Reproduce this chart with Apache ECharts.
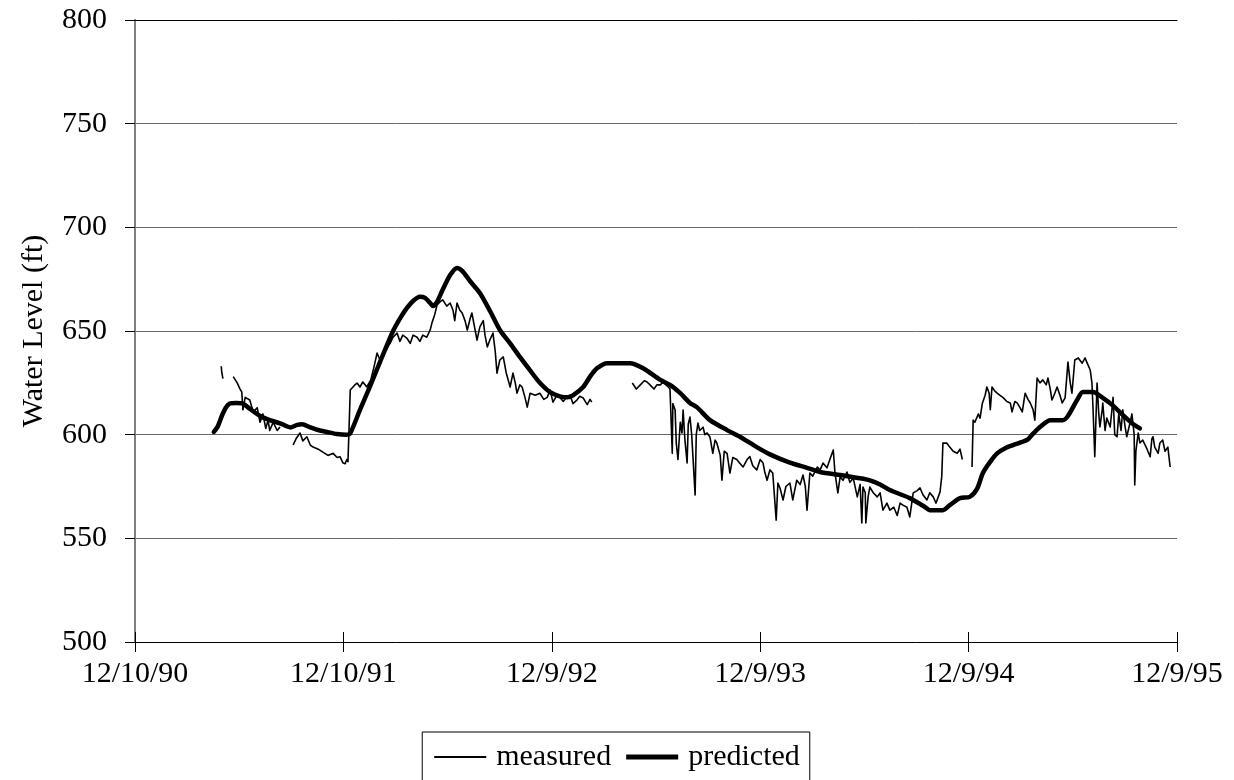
<!DOCTYPE html>
<html>
<head>
<meta charset="utf-8">
<title>Water Level</title>
<script src="https://cdn.jsdelivr.net/npm/echarts@6/dist/echarts.min.js"></script>
<style>
  html, body { margin: 0; padding: 0; background: #fff; }
  #chart { width: 1234px; height: 780px; }
</style>
</head>
<body>
<div id="chart"></div>
<script>
// Days are counted from 12/10/90; one axis step is 365 days.
const tickLabels = ['12/10/90', '12/10/91', '12/9/92', '12/9/93', '12/9/94', '12/9/95'];
const yTicks = [500, 550, 600, 650, 700, 750, 800];

// Measured water level (ft); null marks a gap in the record.
const measuredDays = [
  151, 152, 154, null,
  172, 179, 184, 187, 189, 193, 201, 207, 214, 219, 224, 229, 233, 236, 242, 249, 254, null,
  277, 282, 289, 294, 301, 307, 312, 321, 329, 338, 347, 354, 359, 364, 368, 371, 373, 375, 377, 380,
  385, 389, 394, 399, 406, 413, 418, 424, 429, 434, 440, 447, 452, 459, 464, 469, 476, 482, 487, 494,
  499, 504, 511, 517, 520, 525, 529, 534, 539, 546, 552, 557, 560, 564, 569, 573, 578, 582, 587, 590,
  596, 599, 604, 610, 613, 617, 622, 627, 631, 634, 639, 645, 650, 657, 662, 666, 669, 674, 678, 683,
  687, 692, 701, 709, 716, 722, 727, 732, 739, 744, 750, 757, 762, 767, 774, 779, 785, 792, 797, 800, null,
  871, 878, 885, 892, 897, 902, 909, 914, 920, 925, 930, 934, 937, 941, 942, 946, 948, 951, 955, 958,
  960, 963, 967, 969, 972, 975, 981, 983, 986, 989, 995, 998, 1002, 1007, 1012, 1016, 1019, 1025, 1028, 1032,
  1037, 1042, 1047, 1054, 1060, 1065, 1072, 1077, 1082, 1089, 1095, 1100, 1103, 1107, 1112, 1117, 1123, 1126, 1130, 1135,
  1140, 1147, 1152, 1156, 1159, 1165, 1170, 1174, 1177, 1182, 1187, 1195, 1200, 1205, 1212, 1217, 1223, 1226, 1231, 1235,
  1240, 1247, 1252, 1258, 1265, 1270, 1273, 1275, 1279, 1280, 1284, 1287, 1293, 1300, 1305, 1310, 1317, 1322, 1329, 1335,
  1340, 1345, 1352, 1357, 1363, 1370, 1375, 1380, 1387, 1392, 1398, 1403, 1410, 1413, 1415, 1422, 1427, 1433, 1440, 1445, 1449, null,
  1466, 1468, 1471, 1477, 1480, 1484, 1489, 1492, 1496, 1498, 1501, 1506, 1510, 1515, 1520, 1527, 1533, 1536, 1541, 1545,
  1550, 1554, 1559, 1564, 1568, 1573, 1576, 1580, 1585, 1590, 1596, 1599, 1603, 1606, 1611, 1615, 1620, 1624, 1629, 1634,
  1638, 1641, 1646, 1652, 1659, 1664, 1667, 1673, 1676, 1678, 1681, 1685, 1688, 1690, 1694, 1695, 1699, 1702, 1708, 1711,
  1713, 1716, 1720, 1723, 1727, 1730, 1734, 1737, 1743, 1746, 1750, 1751, 1753, 1757, 1760, 1765, 1771, 1774, 1778, 1781,
  1783, 1786, 1792, 1795, 1800, 1804, 1809, 1813
];
const measuredLevels = [
  633, 630, 627, null,
  628, 625, 622, 620.6, 612, 618, 616.7, 611, 613, 606, 610, 603, 607, 602, 606, 602, 603.7, null,
  595, 598, 600.8, 597, 599, 595, 594, 593, 591.6, 590, 591, 589, 589.4, 586.5, 586, 588, 587, 604, 621.5, 621.5,
  624, 624.9, 623, 625.4, 623, 626.4, 632, 639.4, 636, 639.4, 641, 644.2, 647, 649, 645, 648, 646.6, 644, 648, 647,
  645, 648, 647, 650.5, 653.8, 658, 662.5, 664, 665, 662, 663.5, 660, 655, 663.5, 660, 658.7, 655, 650.5, 656, 658.7,
  650, 645.6, 652, 655, 648, 642.3, 646, 649, 640, 629.7, 636, 637.5, 630, 623, 629.7, 625, 620, 624, 623, 618,
  613.3, 620, 619, 620, 617, 618, 621.5, 615.7, 619, 618, 616, 618.5, 619, 615, 616.7, 618.5, 617.7, 614.5, 617, 615.7, null,
  624.9, 622, 624, 626, 625.4, 624, 622, 624, 624, 625.4, 624, 623, 622, 591, 615, 611.9, 596, 588, 606, 600.8,
  611.9, 598, 586.4, 605, 608.5, 600, 570.9, 600, 605.6, 602, 603.6, 600, 600.8, 598.9, 591, 597.4, 596, 590, 578, 592,
  591, 581.5, 589, 588, 586, 584.4, 588, 589.4, 585, 583, 588, 586.3, 582, 578, 583, 581.5, 558.8, 576.7, 574, 568.5,
  575, 576.7, 568.5, 574, 578, 576, 580.5, 575, 563.6, 581.5, 580, 584.4, 583, 586.3, 584, 588, 592.6, 581.5, 571.9, 579.6,
  578, 582, 577, 579, 570, 576, 557.4, 574.7, 572, 557.4, 570, 574.7, 572, 570, 571.9, 563.6, 567, 563.6, 565, 561,
  567, 566, 565, 560.3, 571.9, 573, 574.3, 571, 568.5, 572, 570, 567, 572.4, 580, 595.9, 595.9, 594, 592, 591, 593, 588, null,
  584.4, 607, 606, 610, 608, 615, 619, 623, 620, 612, 623, 621, 620, 619, 618, 616, 615.3, 611, 616, 615.3,
  613, 611, 620, 617, 615.3, 612, 607, 627.3, 625, 626.4, 624, 627.3, 622, 616.7, 620, 623, 619, 615.3, 617.7, 635,
  625, 620, 636, 637, 634.5, 637, 635, 631.2, 625, 612, 589.4, 624.9, 610, 603.7, 612, 615.3, 602, 608, 603.7, 612,
  618, 600, 599, 610, 602, 612, 604, 599, 606, 610, 600, 575.7, 592, 600.8, 596, 597.4, 594, 592, 589.4, 598,
  599, 594, 591, 596, 597.4, 592, 594, 584.4
];

// Predicted water level (ft).
const predictedDays = [
  138, 145, 152, 159, 166, 177, 189, 201, 219, 236, 254, 272, 284, 293, 307, 324, 342, 354, 370, 377,
  394, 412, 429, 452, 464, 476, 487, 499, 508, 517, 522, 529, 539, 552, 564, 573, 587, 604, 622, 639,
  657, 674, 692, 709, 727, 744, 757, 767, 785, 797, 809, 827, 867, 890, 920, 937, 955, 972, 984, 1007,
  1037, 1060, 1089, 1112, 1147, 1177, 1200, 1235, 1270, 1287, 1305, 1322, 1357, 1384, 1392, 1415, 1427, 1445, 1462, 1475,
  1485, 1498, 1510, 1524, 1538, 1562, 1573, 1585, 1603, 1625, 1634, 1650, 1660, 1678, 1695, 1713, 1730, 1746, 1760
];
const predictedLevels = [
  601.3, 604, 609, 613, 615, 615.3, 615, 612.5, 609, 607, 605.5, 603.5, 604.7, 605, 603.5, 602, 601, 600.3, 600, 600.7,
  612, 623.5, 635, 650, 656, 661, 664.5, 666.5, 666, 663.5, 662, 664, 670, 677, 680.4, 679, 674, 668.3, 659.5, 650.5,
  644, 637.5, 631, 625, 620.5, 618.5, 618, 619, 623, 628, 632, 634.5, 634.5, 632, 626.4, 624, 620, 615.3, 613.3, 607,
  602.2, 598.9, 594, 590.5, 586.5, 584, 582, 580.5, 579, 578, 576, 573.3, 569.4, 565, 563.6, 563.6, 566, 569.4, 570, 574,
  581.5, 587, 591, 593.5, 595, 597.4, 600.5, 603.7, 607, 607, 609, 616.7, 620.6, 620.6, 617.7, 614, 609.5, 605.5, 603
];

const FONT = '"Liberation Serif", "Times New Roman", serif';
const STEP = 365;

const measuredData = measuredDays.map((d, i) =>
  d === null ? [null, '-'] : [d, measuredLevels[i]]);
const predictedData = predictedDays.map((d, i) => [d, predictedLevels[i]]);

const xRange = { min: 0, max: STEP * (tickLabels.length - 1), interval: STEP };
const yRange = { min: yTicks[0], max: yTicks[yTicks.length - 1], interval: yTicks[1] - yTicks[0] };

const chart = echarts.init(document.getElementById('chart'), null, { renderer: 'canvas' });
chart.setOption({
  animation: false,
  backgroundColor: '#fff',
  textStyle: { fontFamily: FONT },
  grid: { left: 135, right: 57, top: 20, bottom: 138, containLabel: false },
  xAxis: [
    {
      type: 'value', ...xRange,
      axisLine: { show: true, lineStyle: { color: '#000', width: 1 } },
      axisTick: { show: true, inside: false, length: 10, lineStyle: { color: '#000' } },
      axisLabel: {
        show: true, margin: 17, color: '#000', fontFamily: FONT, fontSize: 30,
        showMinLabel: true, showMaxLabel: true,
        formatter: v => tickLabels[Math.round(v / STEP)] || ''
      },
      splitLine: { show: false }
    },
    {
      // inner half of the crossing tick marks
      type: 'value', ...xRange, position: 'bottom', gridIndex: 0,
      axisLine: { show: false },
      axisTick: { show: true, inside: true, length: 10, lineStyle: { color: '#000' } },
      axisLabel: { show: false },
      splitLine: { show: false }
    },
    {
      // top edge of the plot area
      type: 'value', ...xRange, position: 'top',
      axisLine: { show: true, lineStyle: { color: '#000', width: 1 } },
      axisTick: { show: false },
      axisLabel: { show: false },
      splitLine: { show: false }
    }
  ],
  yAxis: [
    {
      type: 'value', ...yRange,
      name: 'Water Level (ft)',
      nameLocation: 'middle',
      nameGap: 86,
      nameRotate: 90,
      nameTextStyle: { color: '#000', fontFamily: FONT, fontSize: 30 },
      axisLine: { show: true, lineStyle: { color: '#000', width: 1 } },
      axisTick: { show: true, inside: false, length: 10, lineStyle: { color: '#000' } },
      axisLabel: { show: true, margin: 28, color: '#000', fontFamily: FONT, fontSize: 30 },
      splitLine: { show: true, lineStyle: { color: '#6a6a6a', width: 1 } }
    },
    {
      // right edge of the plot area
      type: 'value', ...yRange, position: 'right',
      axisLine: { show: true, lineStyle: { color: '#808080', width: 2 } },
      axisTick: { show: false },
      axisLabel: { show: false },
      splitLine: { show: false }
    }
  ],
  legend: {
    show: true,
    left: 'center',
    top: 732,
    orient: 'horizontal',
    backgroundColor: '#fff',
    borderColor: '#000',
    borderWidth: 1,
    padding: [10, 10, 30, 12],
    itemGap: 15,
    itemWidth: 52,
    itemHeight: 14,
    textStyle: { color: '#000', fontFamily: FONT, fontSize: 30, padding: [0, 0, 0, 5] },
    data: [
      { name: 'measured', icon: 'path://M0,0H52V2H0Z', itemStyle: { color: '#000' } },
      { name: 'predicted', icon: 'path://M0,0H52V5H0Z', itemStyle: { color: '#000' } }
    ]
  },
  series: [
    {
      name: 'measured',
      type: 'line',
      data: measuredData,
      showSymbol: false,
      symbol: 'none',
      connectNulls: false,
      lineStyle: { color: '#000', width: 1.6, join: 'round' },
      itemStyle: { color: '#000' },
      z: 2
    },
    {
      name: 'predicted',
      type: 'line',
      data: predictedData,
      showSymbol: false,
      symbol: 'none',
      smooth: 0.25,
      lineStyle: { color: '#000', width: 4.5, join: 'round', cap: 'round' },
      itemStyle: { color: '#000' },
      z: 3
    }
  ]
});
</script>
</body>
</html>
